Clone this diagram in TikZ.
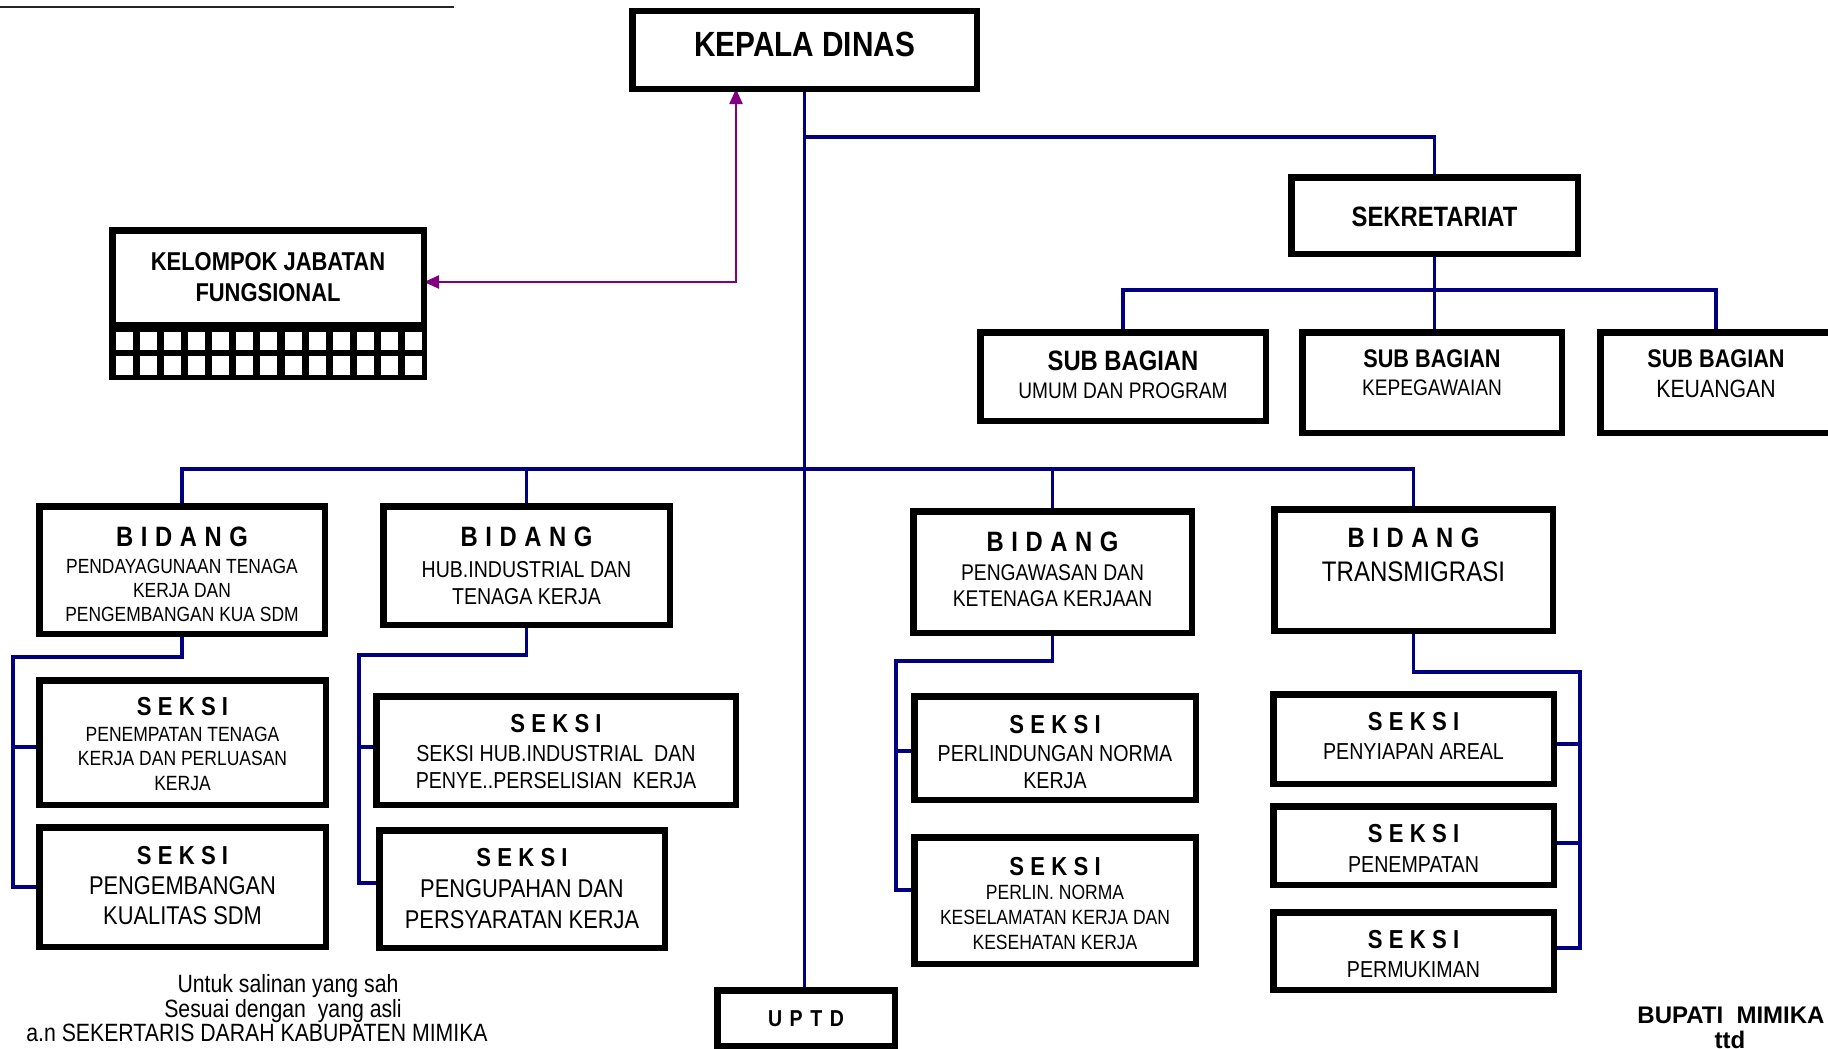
\documentclass[tikz,border=0pt]{standalone}
\usepackage{fontspec}
\setmainfont{Liberation Sans}[FakeStretch=0.85]
\newfontfamily\plainwide{Liberation Sans}
\usetikzlibrary{arrows.meta,backgrounds}
\definecolor{navyc}{RGB}{0,0,128}
\definecolor{purpc}{RGB}{128,0,128}
\tikzset{
  box/.style={draw=black, line width=6.5pt, fill=white, inner sep=0pt},
  conn/.style={draw=navyc, line width=3.2pt},
  funclink/.style={draw=purpc, line width=2.2pt,
    {Triangle[length=15pt,width=13pt]}-{Triangle[length=15pt,width=13pt]},
    shorten <=-3pt, shorten >=-3pt},
  lbl/.style={anchor=base, inner sep=0pt, align=center},
}
% box from outer corners: name, x1, y1, x2, y2
\newcommand\orgbox[5]{\node[box, minimum width={(#4-#2-6.5)*1pt},
  minimum height={(#5-#3-6.5)*1pt}] (#1) at ({(#2+#4)/2},{(#3+#5)/2}) {};}
% one line of text: name, x, baseline y, size, text
\newcommand\txtline[5]{\node[lbl, font=\fontsize{#4}{#4}\selectfont] (#1) at (#2,#3) {#5};}
\newcommand\bidangword{B\kern.27em I\kern.27em D\kern.27em A\kern.27em N\kern.27em G}
\newcommand\seksiword{S\kern.24em E\kern.24em K\kern.24em S\kern.24em I}
\newcommand\uptdword{U\kern.33em P\kern.33em T\kern.33em D}

\begin{document}
\begin{tikzpicture}[x=1pt,y=-1pt]
\useasboundingbox (0,0) rectangle (1828,1049);
\clip (0,0) rectangle (1828,1049);

% rule at the top left
\draw[line width=2.5pt, black!85] (0,7) -- (454,7);

% boxes
\orgbox{kd}{629}{8}{980}{92}
\orgbox{sek}{1288}{174}{1581}{257}
\orgbox{sbum}{977}{329}{1269}{424}
\orgbox{sbpeg}{1299}{329}{1565}{436}
\orgbox{sbkeu}{1597}{329}{1835}{436}
\orgbox{kjf}{109}{227}{427}{380}
\orgbox{bpd}{36}{503}{328}{637}
\orgbox{bhub}{380}{503}{673}{628}
\orgbox{bpw}{910}{508}{1195}{636}
\orgbox{btr}{1271}{506}{1556}{634}
\orgbox{spen}{36}{677}{329}{808}
\orgbox{skual}{36}{824}{329}{950}
\orgbox{shub}{373}{693}{739}{808}
\orgbox{supah}{376}{827}{668}{951}
\orgbox{snorma}{911}{693}{1199}{803}
\orgbox{sk3}{911}{834}{1199}{967}
\orgbox{sareal}{1270}{691}{1557}{787}
\orgbox{stemp}{1270}{803}{1557}{888}
\orgbox{smukim}{1270}{909}{1557}{993}
\orgbox{uptd}{714}{987}{898}{1049}

% grid band at the foot of the functional group box
\fill[black] (109,322) rectangle (427,380);
\foreach \i in {0,...,12}{
  \fill[white] ({116+24.08*\i},332) rectangle ++(17,18);
  \fill[white] ({116+24.08*\i},355.5) rectangle ++(17,19);
}

% connectors
\coordinate (ysek) at (0,137);
\coordinate (ysb) at (0,290);
\coordinate (ybus) at (0,469);
\coordinate (c1) at (13,657);
\coordinate (c2) at (359,655);
\coordinate (c3) at (896,661);
\coordinate (c4) at (1580,672);
\coordinate (pj) at (736,0);
\coordinate (t1a) at ([yshift=-4.5pt]spen.west);
\coordinate (t2a) at ([yshift=3.5pt]shub.west);
\coordinate (t2b) at ([yshift=6pt]supah.west);
\coordinate (t3a) at ([yshift=-3pt]snorma.west);
\coordinate (t3b) at ([yshift=10.5pt]sk3.west);
\coordinate (t4a) at ([yshift=-5pt]sareal.east);
\coordinate (t4b) at ([yshift=2.5pt]stemp.east);
\coordinate (t4c) at ([yshift=3pt]smukim.east);

\begin{scope}[on background layer]
\draw[conn] (kd.south) -- (kd.south |- uptd.north);
\draw[conn] (kd.south |- ysek) -| (sek.north);
\draw[conn] (sek.south) -- (sek.south |- sbpeg.north);
\draw[conn] (sbum.north) |- (sbkeu.north |- ysb) -- (sbkeu.north);
\draw[conn] (bpd.north) |- (btr.north |- ybus) -- (btr.north);
\draw[conn] (bhub.north) -- (bhub.north |- ybus);
\draw[conn] (bpw.north) -- (bpw.north |- ybus);
\draw[conn] (bpd.south) |- (c1) |- (skual.west);
\draw[conn] (c1 |- t1a) -- (t1a);
\draw[conn] (bhub.south) |- (c2) |- (t2b);
\draw[conn] (c2 |- t2a) -- (t2a);
\draw[conn] (bpw.south) |- (c3) |- (t3b);
\draw[conn] (c3 |- t3a) -- (t3a);
\draw[conn] (btr.south) |- (c4) |- (t4c);
\draw[conn] (c4 |- t4a) -- (t4a);
\draw[conn] (c4 |- t4b) -- (t4b);
% two-headed link between the functional group and the head
\draw[funclink] ([yshift=21.5pt]kjf.east) -| (pj |- kd.south);
\end{scope}

% texts
\txtline{kdt}{804.5}{56.5}{35}{\bfseries KEPALA DINAS}
\txtline{sekt}{1434.5}{226.5}{28}{\bfseries SEKRETARIAT}
\txtline{sbumt}{1123}{370}{28}{\bfseries SUB BAGIAN}
\txtline{sbumb}{1123}{398}{22.5}{UMUM DAN PROGRAM}
\txtline{sbpegt}{1432}{367}{25.5}{\bfseries SUB BAGIAN}
\txtline{sbpegb}{1432}{395}{22.5}{KEPEGAWAIAN}
\txtline{sbkeut}{1716}{367}{25.5}{\bfseries SUB BAGIAN}
\txtline{sbkeub}{1716}{397}{25}{KEUANGAN}
\txtline{kjft}{268}{270}{25.8}{\bfseries KELOMPOK JABATAN}
\txtline{kjfb}{268}{301}{25.8}{\bfseries FUNGSIONAL}

\txtline{bpdt}{182}{546}{28}{\bfseries\bidangword}
\txtline{bpda}{182}{573.3}{20.5}{PENDAYAGUNAAN TENAGA}
\txtline{bpdb}{182}{597.3}{20.5}{KERJA DAN}
\txtline{bpdc}{182}{621.3}{20.5}{PENGEMBANGAN KUA SDM}
\txtline{bhubt}{526.5}{546}{28}{\bfseries\bidangword}
\txtline{bhuba}{526.5}{577.7}{23}{HUB.INDUSTRIAL DAN}
\txtline{bhubb}{526.5}{604.2}{23}{TENAGA KERJA}
\txtline{bpwt}{1052.5}{551}{28}{\bfseries\bidangword}
\txtline{bpwa}{1052.5}{580.6}{22.7}{PENGAWASAN DAN}
\txtline{bpwb}{1052.5}{606.1}{22.7}{KETENAGA KERJAAN}
\txtline{btrt}{1413.5}{547.5}{28}{\bfseries\bidangword}
\txtline{btra}{1413.5}{581.8}{28.3}{TRANSMIGRASI}

\txtline{spent}{182.5}{715.3}{26}{\bfseries\seksiword}
\txtline{spena}{182.5}{741.4}{20.6}{PENEMPATAN TENAGA}
\txtline{spenb}{182.5}{765.4}{20.6}{KERJA DAN PERLUASAN}
\txtline{spenc}{182.5}{790.4}{20.6}{KERJA}
\txtline{skualt}{182.5}{864.3}{26}{\bfseries\seksiword}
\txtline{skuala}{182.5}{894.7}{25.7}{PENGEMBANGAN}
\txtline{skualb}{182.5}{924.7}{25.7}{KUALITAS SDM}
\txtline{shubt}{556}{732.8}{26}{\bfseries\seksiword}
\txtline{shuba}{556}{761.3}{23.1}{SEKSI HUB.INDUSTRIAL\ \ DAN}
\txtline{shubb}{556}{788.8}{23.1}{PENYE..PERSELISIAN\ \ KERJA}
\txtline{supaht}{522}{866.8}{26}{\bfseries\seksiword}
\txtline{supaha}{522}{897.2}{25.7}{PENGUPAHAN DAN}
\txtline{supahb}{522}{928.2}{25.7}{PERSYARATAN KERJA}
\txtline{snormat}{1055}{733.3}{26}{\bfseries\seksiword}
\txtline{snormaa}{1055}{761.3}{23.1}{PERLINDUNGAN NORMA}
\txtline{snormab}{1055}{788.3}{23.1}{KERJA}
\txtline{sk3t}{1055}{875.3}{26}{\bfseries\seksiword}
\txtline{sk3a}{1055}{899.9}{20.6}{PERLIN. NORMA}
\txtline{sk3b}{1055}{924.9}{20.6}{KESELAMATAN KERJA DAN}
\txtline{sk3c}{1055}{949.1}{20.6}{KESEHATAN KERJA}
\txtline{sarealt}{1413.5}{730.8}{26}{\bfseries\seksiword}
\txtline{sareala}{1413.5}{759.6}{23.1}{PENYIAPAN AREAL}
\txtline{stempt}{1413.5}{842.6}{26}{\bfseries\seksiword}
\txtline{stempa}{1413.5}{872.1}{23.1}{PENEMPATAN}
\txtline{smukimt}{1413.5}{948.3}{26}{\bfseries\seksiword}
\txtline{smukima}{1413.5}{977.3}{23.1}{PERMUKIMAN}
\txtline{uptdt}{806}{1026.2}{23}{\bfseries\uptdword}

% endorsement notes
\txtline{noteA}{288}{992}{25}{Untuk salinan yang sah}
\txtline{noteB}{283}{1017}{25}{Sesuai dengan\ \ yang asli}
\txtline{noteC}{257}{1041}{25}{a.n SEKERTARIS DARAH KABUPATEN MIMIKA}
\txtline{regent}{1731}{1023.6}{24}{\plainwide\bfseries BUPATI\ \ MIMIKA}
\txtline{ttd}{1730}{1048}{24}{\plainwide\bfseries ttd}
\end{tikzpicture}
\end{document}
